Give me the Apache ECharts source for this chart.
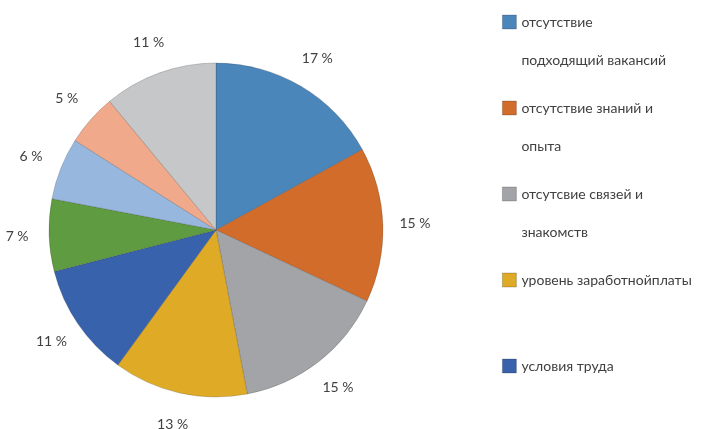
<!DOCTYPE html>
<html>
<head>
<meta charset="utf-8">
<script src="https://cdn.jsdelivr.net/npm/echarts@6/dist/echarts.min.js"></script>
<style>
  html, body { margin: 0; padding: 0; background: #fff; }
  #chart { width: 721px; height: 429px; }
</style>
</head>
<body>
<div id="chart"></div>
<script>
// Reasons for unemployment — shares in percent, clockwise from 12 o'clock.
const categories = [
  'отсутствие подходящий вакансий',
  'отсутствие знаний и опыта',
  'отсутсвие связей и знакомств',
  'уровень заработнойплаты',
  'условия труда',
  'график работы',
  'удалённость',
  'возраст',
  'другое'
];
const values = [17, 15, 15, 13, 11, 7, 6, 5, 11];
const colors = ['#4b86bb', '#d26c2b', '#a3a4a7', '#dfaa25', '#3862ab',
                '#5f9b40', '#98b7df', '#f0a98a', '#c6c7c9'];
// legend text as it wraps in the picture (only the first five entries are visible)
const legendText = {
  'отсутствие подходящий вакансий': 'отсутствие\nподходящий вакансий',
  'отсутствие знаний и опыта': 'отсутствие знаний и\nопыта',
  'отсутсвие связей и знакомств': 'отсутсвие связей и\nзнакомств',
  'уровень заработнойплаты': 'уровень заработнойплаты\n',
  'условия труда': 'условия труда\n'
};

const FONT = 'Lato, "Noto Sans", sans-serif';
const center = [216, 230];
const pieData = categories.map((name, i) => ({ name, value: values[i], itemStyle: { color: colors[i] } }));

const chart = echarts.init(document.getElementById('chart'), null, { renderer: 'canvas' });
chart.setOption({
  animation: false,
  backgroundColor: '#ffffff',
  legend: {
    orient: 'vertical',
    left: 497,
    top: -40,
    height: 560,
    itemWidth: 14,
    itemHeight: 14,
    itemGap: -28,
    icon: 'rect',
    selectedMode: false,
    data: categories.slice(0, 5),
    // leading blank line keeps the first text line level with the swatch
    formatter: (name) => '\n' + legendText[name],
    itemStyle: { borderWidth: 0.8, borderColor: 'rgba(0,0,0,0.25)' },
    textStyle: { fontFamily: FONT, fontSize: 14, color: '#404040', lineHeight: 38 }
  },
  series: [
    {
      type: 'pie',
      center,
      radius: 167,
      startAngle: 90,
      clockwise: true,
      data: pieData,
      label: { show: false },
      labelLine: { show: false },
      emphasis: { disabled: true },
      itemStyle: { borderColor: 'rgba(40,40,40,0.25)', borderWidth: 0.8 }
    },
    {
      // invisible ring that only carries the percentage labels
      type: 'pie',
      center,
      radius: [183, 209],
      startAngle: 90,
      clockwise: true,
      silent: true,
      data: categories.map((name, i) => ({ name, value: values[i] })),
      itemStyle: { color: 'rgba(0,0,0,0)' },
      label: {
        show: true,
        position: 'inside',
        formatter: '{c} %',
        fontFamily: FONT,
        fontSize: 14,
        color: '#404040'
      },
      labelLine: { show: false },
      emphasis: { disabled: true }
    }
  ]
});
</script>
</body>
</html>
